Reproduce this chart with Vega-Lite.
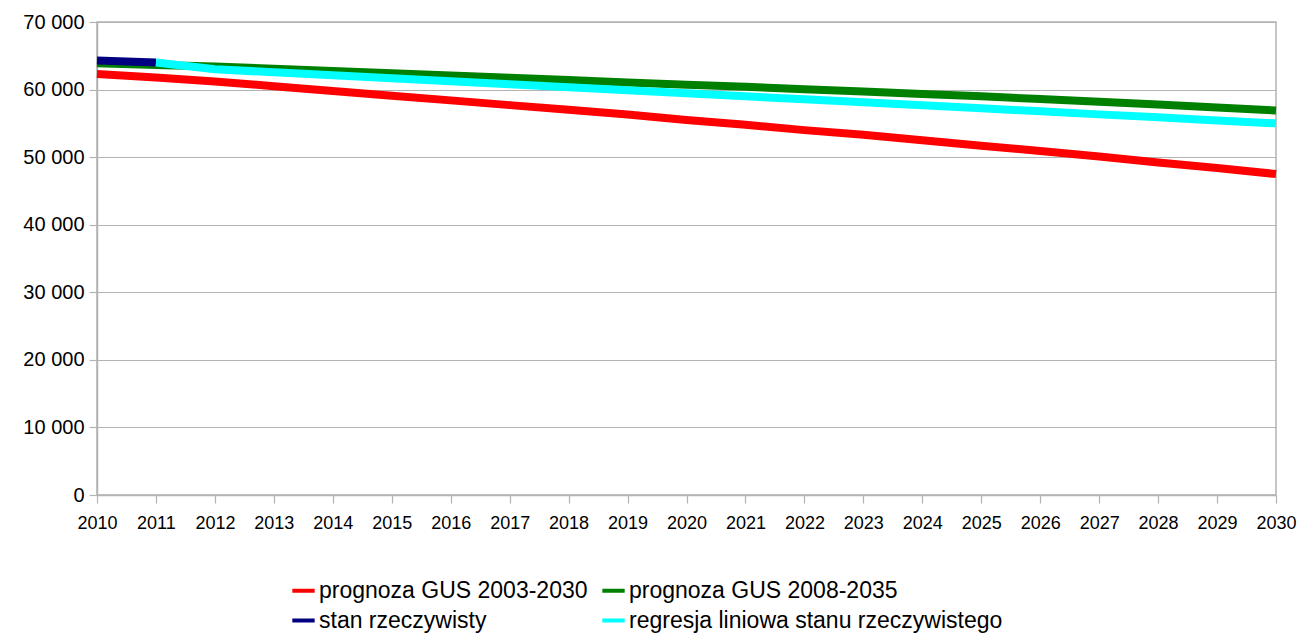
{
  "$schema": "https://vega.github.io/schema/vega-lite/v6.json",
  "width": 1179,
  "height": 473,
  "autosize": {"type": "none"},
  "padding": {"left": 97, "top": 22, "right": 35, "bottom": 139},
  "background": "white",
  "config": {
    "font": "Liberation Sans",
    "view": {"stroke": "#b3b3b3", "strokeWidth": 1.5},
    "axis": {"gridColor": "#b3b3b3", "domainColor": "#b3b3b3", "tickColor": "#b3b3b3", "labelColor": "#000000", "gridWidth": 1.2, "domainWidth": 1.5, "tickWidth": 1.2}
  },
  "data": {"values": [
    {"year": 2010, "series": "prognoza GUS 2003-2030", "value": 62300},
    {"year": 2011, "series": "prognoza GUS 2003-2030", "value": 61800},
    {"year": 2012, "series": "prognoza GUS 2003-2030", "value": 61200},
    {"year": 2013, "series": "prognoza GUS 2003-2030", "value": 60500},
    {"year": 2014, "series": "prognoza GUS 2003-2030", "value": 59800},
    {"year": 2015, "series": "prognoza GUS 2003-2030", "value": 59100},
    {"year": 2016, "series": "prognoza GUS 2003-2030", "value": 58400},
    {"year": 2017, "series": "prognoza GUS 2003-2030", "value": 57700},
    {"year": 2018, "series": "prognoza GUS 2003-2030", "value": 57000},
    {"year": 2019, "series": "prognoza GUS 2003-2030", "value": 56300},
    {"year": 2020, "series": "prognoza GUS 2003-2030", "value": 55500},
    {"year": 2021, "series": "prognoza GUS 2003-2030", "value": 54800},
    {"year": 2022, "series": "prognoza GUS 2003-2030", "value": 54000},
    {"year": 2023, "series": "prognoza GUS 2003-2030", "value": 53300},
    {"year": 2024, "series": "prognoza GUS 2003-2030", "value": 52500},
    {"year": 2025, "series": "prognoza GUS 2003-2030", "value": 51700},
    {"year": 2026, "series": "prognoza GUS 2003-2030", "value": 50900},
    {"year": 2027, "series": "prognoza GUS 2003-2030", "value": 50100},
    {"year": 2028, "series": "prognoza GUS 2003-2030", "value": 49200},
    {"year": 2029, "series": "prognoza GUS 2003-2030", "value": 48400},
    {"year": 2030, "series": "prognoza GUS 2003-2030", "value": 47500},
    {"year": 2010, "series": "prognoza GUS 2008-2035", "value": 63900},
    {"year": 2011, "series": "prognoza GUS 2008-2035", "value": 63650},
    {"year": 2012, "series": "prognoza GUS 2008-2035", "value": 63400},
    {"year": 2013, "series": "prognoza GUS 2008-2035", "value": 63100},
    {"year": 2014, "series": "prognoza GUS 2008-2035", "value": 62750},
    {"year": 2015, "series": "prognoza GUS 2008-2035", "value": 62400},
    {"year": 2016, "series": "prognoza GUS 2008-2035", "value": 62100},
    {"year": 2017, "series": "prognoza GUS 2008-2035", "value": 61750},
    {"year": 2018, "series": "prognoza GUS 2008-2035", "value": 61400},
    {"year": 2019, "series": "prognoza GUS 2008-2035", "value": 61050},
    {"year": 2020, "series": "prognoza GUS 2008-2035", "value": 60700},
    {"year": 2021, "series": "prognoza GUS 2008-2035", "value": 60400},
    {"year": 2022, "series": "prognoza GUS 2008-2035", "value": 60050},
    {"year": 2023, "series": "prognoza GUS 2008-2035", "value": 59700},
    {"year": 2024, "series": "prognoza GUS 2008-2035", "value": 59350},
    {"year": 2025, "series": "prognoza GUS 2008-2035", "value": 59000},
    {"year": 2026, "series": "prognoza GUS 2008-2035", "value": 58600},
    {"year": 2027, "series": "prognoza GUS 2008-2035", "value": 58200},
    {"year": 2028, "series": "prognoza GUS 2008-2035", "value": 57800},
    {"year": 2029, "series": "prognoza GUS 2008-2035", "value": 57350},
    {"year": 2030, "series": "prognoza GUS 2008-2035", "value": 56900},
    {"year": 2010, "series": "stan rzeczywisty", "value": 64300},
    {"year": 2011, "series": "stan rzeczywisty", "value": 64000},
    {"year": 2011, "series": "regresja liniowa stanu rzeczywistego", "value": 64000},
    {"year": 2012, "series": "regresja liniowa stanu rzeczywistego", "value": 63000},
    {"year": 2013, "series": "regresja liniowa stanu rzeczywistego", "value": 62560},
    {"year": 2014, "series": "regresja liniowa stanu rzeczywistego", "value": 62110},
    {"year": 2015, "series": "regresja liniowa stanu rzeczywistego", "value": 61670},
    {"year": 2016, "series": "regresja liniowa stanu rzeczywistego", "value": 61220},
    {"year": 2017, "series": "regresja liniowa stanu rzeczywistego", "value": 60780},
    {"year": 2018, "series": "regresja liniowa stanu rzeczywistego", "value": 60330},
    {"year": 2019, "series": "regresja liniowa stanu rzeczywistego", "value": 59890},
    {"year": 2020, "series": "regresja liniowa stanu rzeczywistego", "value": 59440},
    {"year": 2021, "series": "regresja liniowa stanu rzeczywistego", "value": 59000},
    {"year": 2022, "series": "regresja liniowa stanu rzeczywistego", "value": 58560},
    {"year": 2023, "series": "regresja liniowa stanu rzeczywistego", "value": 58110},
    {"year": 2024, "series": "regresja liniowa stanu rzeczywistego", "value": 57670},
    {"year": 2025, "series": "regresja liniowa stanu rzeczywistego", "value": 57220},
    {"year": 2026, "series": "regresja liniowa stanu rzeczywistego", "value": 56780},
    {"year": 2027, "series": "regresja liniowa stanu rzeczywistego", "value": 56330},
    {"year": 2028, "series": "regresja liniowa stanu rzeczywistego", "value": 55890},
    {"year": 2029, "series": "regresja liniowa stanu rzeczywistego", "value": 55440},
    {"year": 2030, "series": "regresja liniowa stanu rzeczywistego", "value": 55000}
  ]},
  "mark": {"type": "line", "strokeWidth": 8, "strokeCap": "butt", "strokeJoin": "round"},
  "encoding": {
    "x": {
      "field": "year", "type": "quantitative",
      "scale": {"domain": [2010, 2030], "nice": false, "zero": false},
      "axis": {
        "title": null, "values": [2010,2011,2012,2013,2014,2015,2016,2017,2018,2019,2020,2021,2022,2023,2024,2025,2026,2027,2028,2029,2030],
        "format": "d", "grid": false, "tickSize": 8, "labelPadding": 11,
        "labelFontSize": 18, "labelFlush": false
      }
    },
    "y": {
      "field": "value", "type": "quantitative",
      "scale": {"domain": [0, 70000], "nice": false},
      "axis": {
        "title": null, "values": [0,10000,20000,30000,40000,50000,60000,70000],
        "labelExpr": "replace(format(datum.value, ','), ',', ' ')",
        "tickSize": 8, "labelPadding": 5, "labelFontSize": 20
      }
    },
    "color": {
      "field": "series", "type": "nominal",
      "scale": {
        "domain": ["prognoza GUS 2003-2030", "prognoza GUS 2008-2035", "stan rzeczywisty", "regresja liniowa stanu rzeczywistego"],
        "range": ["#ff0000", "#008000", "#000080", "#00ffff"]
      },
      "legend": {
        "title": null, "orient": "none", "legendX": 193, "legendY": 555,
        "direction": "horizontal", "columns": 2, "symbolType": "stroke",
        "symbolStrokeWidth": 4, "symbolSize": 500, "labelFontSize": 23,
        "labelColor": "#000000", "rowPadding": 4, "columnPadding": 6,
        "labelOffset": 2, "labelLimit": 600
      }
    },
    "order": {"field": "year", "type": "quantitative"}
  }
}
